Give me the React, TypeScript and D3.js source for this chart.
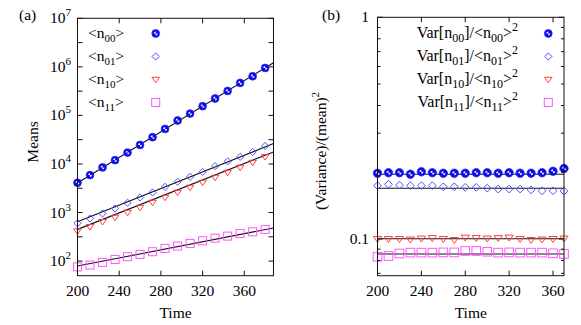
import * as d3 from "d3";

// panel (a): means vs time
const timesA = [200, 212, 224, 236, 248, 260, 272, 284, 296, 308, 320, 332, 344, 356, 368, 380];
const meanN00 = [4100, 5900, 8500, 12000, 17200, 24700, 35600, 52700, 78500, 109000, 155000, 223000, 319000, 467000, 641000, 950000];
const meanN01 = [600, 756, 957, 1210, 1590, 2040, 2590, 3380, 4290, 5430, 6880, 9020, 11300, 14000, 17700, 23500];
const meanN10 = [414, 508, 644, 791, 1000, 1270, 1610, 2040, 2590, 3280, 4160, 5270, 6680, 8470, 10700, 14000];
const meanN11 = [76, 83, 94, 108, 123, 137, 156, 182, 204, 231, 262, 297, 327, 371, 401, 449];
const fitTimesA = [200, 388];
const fitMeanN00 = [4070, 1220000];
const fitMeanN01 = [646, 26300];
const fitMeanN10 = [450, 17700];
const fitMeanN11 = [79, 480];
const xTicksA = [200, 240, 280, 320, 360];
const yDecadesA = [2, 3, 4, 5, 6, 7];

// panel (b): variance / mean^2 vs time
const timesB = [200, 210, 220, 230, 240, 250, 260, 270, 280, 290, 300, 310, 320, 330, 340, 350, 360, 370];
const ratioN00 = [0.198, 0.199, 0.199, 0.196, 0.201, 0.199, 0.198, 0.198, 0.198, 0.199, 0.199, 0.198, 0.199, 0.198, 0.198, 0.199, 0.202, 0.208];
const ratioN01 = [0.174, 0.1765, 0.175, 0.174, 0.174, 0.174, 0.172, 0.172, 0.171, 0.171, 0.1695, 0.168, 0.168, 0.168, 0.1665, 0.165, 0.165, 0.1645];
const ratioN10 = [0.1, 0.1, 0.1, 0.0995, 0.1005, 0.101, 0.1, 0.099, 0.1015, 0.101, 0.1005, 0.101, 0.1015, 0.1, 0.099, 0.0995, 0.1, 0.1005];
const ratioN11 = [0.0832, 0.0838, 0.086, 0.0868, 0.0868, 0.0868, 0.087, 0.087, 0.0883, 0.0883, 0.0876, 0.0868, 0.087, 0.0868, 0.0868, 0.0868, 0.0862, 0.0856];
const fitTimesB = [200, 370];
const fitRatio = [0.196, 0.1694, 0.1003, 0.0856];
const xTicksB = [200, 240, 280, 320, 360];

const seriesKeys = ["00", "01", "10", "11"];

const FONT = "'Liberation Serif', 'DejaVu Serif', serif";
const FS = 15.5;
const SUB = 11;
const BLUE = "#0c0ce0";
const DIAMOND = "#5050ff";
const RED = "#ff4040";
const MAGENTA = "#ff55ff";

type Kind = "circle" | "diamond" | "triangle" | "square";
const kinds: Kind[] = ["circle", "diamond", "triangle", "square"];

function Marker({ kind, x, y, s = 1 }: { kind: Kind; x: number; y: number; s?: number }) {
  if (kind === "circle") {
    const r = 3.9 * s;
    const q = 1.9 * s;
    return (
      <g transform={`translate(${x},${y})`}>
        <circle r={r} fill={BLUE} stroke="#2a2aff" strokeWidth={0.8} />
        <path d={`M0,0 L${-q},0 A${q},${q} 0 0 1 0,${-q} Z`} fill="#fff" />
        <path d={`M0,0 L${q},0 A${q},${q} 0 0 1 0,${q} Z`} fill="#fff" />
      </g>
    );
  }
  if (kind === "diamond") {
    const r = 3.6 * s;
    return (
      <path
        d={`M${x},${y - r} L${x + r},${y} L${x},${y + r} L${x - r},${y} Z`}
        fill="none"
        stroke={DIAMOND}
        strokeWidth={1}
      />
    );
  }
  if (kind === "triangle") {
    const r = 3.8 * s;
    return (
      <path
        d={`M${x - r},${y - r * 0.6} L${x + r},${y - r * 0.6} L${x},${y + r * 0.85} Z`}
        fill="none"
        stroke={RED}
        strokeWidth={1}
      />
    );
  }
  const h = 4 * s;
  return <rect x={x - h} y={y - h} width={2 * h} height={2 * h} fill="none" stroke={MAGENTA} strokeWidth={1} />;
}

function PanelA() {
  const L = 77.5, R = 273.5, T = 18.3, B = 275.7;
  const x = d3.scaleLinear().domain([200, 388]).range([L, R]);
  const y = d3.scaleLog().domain([50, 1e7]).range([B, T]);
  const data = [meanN00, meanN01, meanN10, meanN11];
  const fits = [fitMeanN00, fitMeanN01, fitMeanN10, fitMeanN11];
  const halfDecades = d3.range(2, 7.01, 0.5);
  const line = d3.line<[number, number]>().x((d) => x(d[0])).y((d) => y(d[1]));
  return (
    <g>
      {fits.map((f, i) => (
        <path key={i} d={line(fitTimesA.map((t, j) => [t, f[j]]) as [number, number][]) ?? ""} stroke="#111" strokeWidth={1.1} fill="none" />
      ))}
      {data.map((arr, i) => arr.map((v, j) => <Marker key={`${i}-${j}`} kind={kinds[i]} x={x(timesA[j])} y={y(v)} />))}
      {/* frame + ticks */}
      <rect x={L} y={T} width={R - L} height={B - T} fill="none" stroke="#111" strokeWidth={1} />
      {xTicksA.map((t) => (
        <g key={t}>
          <line x1={x(t)} x2={x(t)} y1={B} y2={B - 5} stroke="#111" />
          <line x1={x(t)} x2={x(t)} y1={T} y2={T + 5} stroke="#111" />
          <text x={x(t)} y={296} textAnchor="middle" fontSize={FS} fontFamily={FONT}>{t}</text>
        </g>
      ))}
      {halfDecades.map((p) => (
        <g key={p}>
          <line x1={L} x2={L + 5} y1={y(Math.pow(10, p))} y2={y(Math.pow(10, p))} stroke="#111" />
          <line x1={R} x2={R - 5} y1={y(Math.pow(10, p))} y2={y(Math.pow(10, p))} stroke="#111" />
        </g>
      ))}
      {yDecadesA.map((p) => (
        <text key={p} x={71} y={y(Math.pow(10, p)) + 5} textAnchor="end" fontSize={FS} fontFamily={FONT}>
          10<tspan dy={-7} fontSize={SUB}>{p}</tspan>
        </text>
      ))}
      <text x={(L + R) / 2} y={318} textAnchor="middle" fontSize={FS} fontFamily={FONT}>Time</text>
      <text transform={`translate(38,${(T + B) / 2 - 5}) rotate(-90)`} textAnchor="middle" fontSize={FS} fontFamily={FONT}>Means</text>
      <text x={19} y={20} fontSize={FS} fontFamily={FONT}>(a)</text>
      {/* legend */}
      {seriesKeys.map((k, i) => (
        <g key={k}>
          <text x={88} y={38} dy={i * 23} fontSize={FS} fontFamily={FONT}>
            {"<n"}<tspan dy={4} fontSize={SUB}>{k}</tspan><tspan dy={-4}>{">"}</tspan>
          </text>
          <Marker kind={kinds[i]} x={155.7} y={33.5 + i * 23} />
        </g>
      ))}
    </g>
  );
}

function PanelB() {
  const L = 377.5, R = 564, T = 17.3, B = 275.7;
  const x = d3.scaleLinear().domain([200, 370]).range([L, R]);
  const y = d3.scaleLog().domain([0.0683, 1]).range([B, T]);
  const data = [ratioN00, ratioN01, ratioN10, ratioN11];
  const ticks = y.ticks();
  return (
    <g>
      {fitRatio.map((v, i) => (
        <line key={i} x1={x(fitTimesB[0])} x2={x(fitTimesB[1])} y1={y(v)} y2={y(v)} stroke="#111" strokeWidth={1.1} />
      ))}
      {data.map((arr, i) => arr.map((v, j) => <Marker key={`${i}-${j}`} kind={kinds[i]} x={x(timesB[j])} y={y(v)} s={1.08} />))}
      <rect x={L} y={T} width={R - L} height={B - T} fill="none" stroke="#111" strokeWidth={1} />
      {xTicksB.map((t) => (
        <g key={t}>
          <line x1={x(t)} x2={x(t)} y1={B} y2={B - 5} stroke="#111" />
          <line x1={x(t)} x2={x(t)} y1={T} y2={T + 5} stroke="#111" />
          <text x={x(t)} y={296} textAnchor="middle" fontSize={FS} fontFamily={FONT}>{t}</text>
        </g>
      ))}
      {ticks.map((v) => {
        const major = Math.abs(Math.log10(v) - Math.round(Math.log10(v))) < 1e-6;
        const len = major ? 5 : 3;
        return (
          <g key={v}>
            <line x1={L} x2={L + len} y1={y(v)} y2={y(v)} stroke="#111" />
            <line x1={R} x2={R - len} y1={y(v)} y2={y(v)} stroke="#111" />
            {major && (
              <text x={369} y={y(v) + 5} textAnchor="end" fontSize={FS} fontFamily={FONT}>{v >= 1 ? "1" : "0.1"}</text>
            )}
          </g>
        );
      })}
      <text x={(L + R) / 2} y={318} textAnchor="middle" fontSize={FS} fontFamily={FONT}>Time</text>
      <text transform={`translate(326,151) rotate(-90)`} textAnchor="middle" fontSize={FS} fontFamily={FONT}>
        (Variance)/(mean)<tspan dy={-7} fontSize={SUB}>2</tspan>
      </text>
      <text x={322} y={20} fontSize={FS} fontFamily={FONT}>(b)</text>
      {seriesKeys.map((k, i) => (
        <g key={k}>
          <text x={518} y={38 + i * 23} textAnchor="end" fontSize={FS + 0.5} fontFamily={FONT}>
            {"Var[n"}<tspan dy={4} fontSize={SUB + 1}>{k}</tspan>
            <tspan dy={-4}>{"]/<n"}</tspan>
            <tspan dy={4} fontSize={SUB + 1}>{k}</tspan>
            <tspan dy={-4}>{">"}</tspan>
            <tspan dy={-7} fontSize={SUB + 1}>2</tspan>
          </text>
          <Marker kind={kinds[i]} x={548.3} y={33.5 + i * 23} />
        </g>
      ))}
    </g>
  );
}

export default function App() {
  return (
    <svg width={581} height={325} style={{ position: "absolute", left: 0, top: 0, background: "#fff" }}>
      <PanelA />
      <PanelB />
    </svg>
  );
}
